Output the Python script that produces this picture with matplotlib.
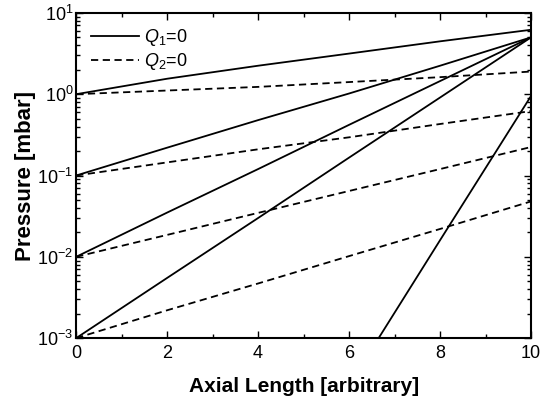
import numpy as np
import matplotlib.pyplot as plt
from matplotlib.ticker import LogLocator, MultipleLocator, NullFormatter

plt.rcParams['font.family'] = ['Liberation Sans', 'DejaVu Sans']
plt.rcParams['mathtext.fontset'] = 'custom'
plt.rcParams['mathtext.it'] = 'Liberation Sans:italic'
plt.rcParams['mathtext.rm'] = 'Liberation Sans'

x = [0, 2, 4, 6, 8, 10]

# Q1=0 curves (solid)
q1_a = [1.0, 1.55, 2.24, 3.16, 4.47, 6.2]
q1_b = [0.1, 0.22, 0.48, 1.02, 2.24, 5.0]
q1_c = [0.01, 0.035, 0.12, 0.42, 1.45, 5.0]
q1_d = [0.001, 0.0055, 0.030, 0.166, 0.91, 5.0]
x_e = [6.65, 8.0, 10.0]
q1_e = [0.001, 0.016, 0.95]

# Q2=0 curves (dashed)
q2_a = [1.0, 1.11, 1.23, 1.41, 1.62, 1.9]
q2_b = [0.1, 0.145, 0.21, 0.295, 0.43, 0.62]
q2_c = [0.01, 0.0186, 0.0347, 0.0645, 0.12, 0.224]
q2_d = [0.001, 0.0022, 0.0047, 0.0102, 0.022, 0.048]

fig = plt.figure(figsize=(5.48, 4.03), dpi=100)
ax = fig.add_axes([0.139, 0.161, 0.830, 0.807])

lw = 1.3
solid = [q1_a, q1_b, q1_c, q1_d]
dashed = [q2_a, q2_b, q2_c, q2_d]
for i, s in enumerate(solid):
    ax.plot(x, s, color='black', lw=lw, label='$Q_1$=0' if i == 0 else None)
ax.plot(x_e, q1_e, color='black', lw=lw)
for i, d in enumerate(dashed):
    ax.plot(x, d, color='black', lw=lw, ls=(0, (4, 2.5)),
            label='$Q_2$=0' if i == 0 else None)

ax.set_yscale('log')
ax.set_xlim(0, 10)
ax.set_ylim(1e-3, 10)
ax.xaxis.set_major_locator(MultipleLocator(2))
ax.xaxis.set_minor_locator(MultipleLocator(1))
ax.yaxis.set_major_locator(LogLocator(base=10, numticks=10))
ax.yaxis.set_minor_locator(LogLocator(base=10, subs=np.arange(2, 10), numticks=10))
ax.yaxis.set_minor_formatter(NullFormatter())

ax.tick_params(which='both', direction='in', top=True, right=True,
               labelsize=13, width=1.0)
ax.tick_params(which='major', length=5)
ax.tick_params(which='minor', length=3)
ax.tick_params(axis='x', pad=5)
ax.tick_params(axis='y', pad=2)
for sp in ax.spines.values():
    sp.set_linewidth(1.5)

ax.set_xlabel('Axial Length [arbitrary]', fontsize=15, fontweight='bold', labelpad=11)
ax.set_ylabel('Pressure [mbar]', fontsize=16, fontweight='bold', labelpad=1)

ax.legend(loc='upper left', frameon=False, fontsize=13, handlelength=2.66,
          handletextpad=0.28, borderaxespad=0.4, labelspacing=0.15)

fig.savefig('out.png', dpi=100)
